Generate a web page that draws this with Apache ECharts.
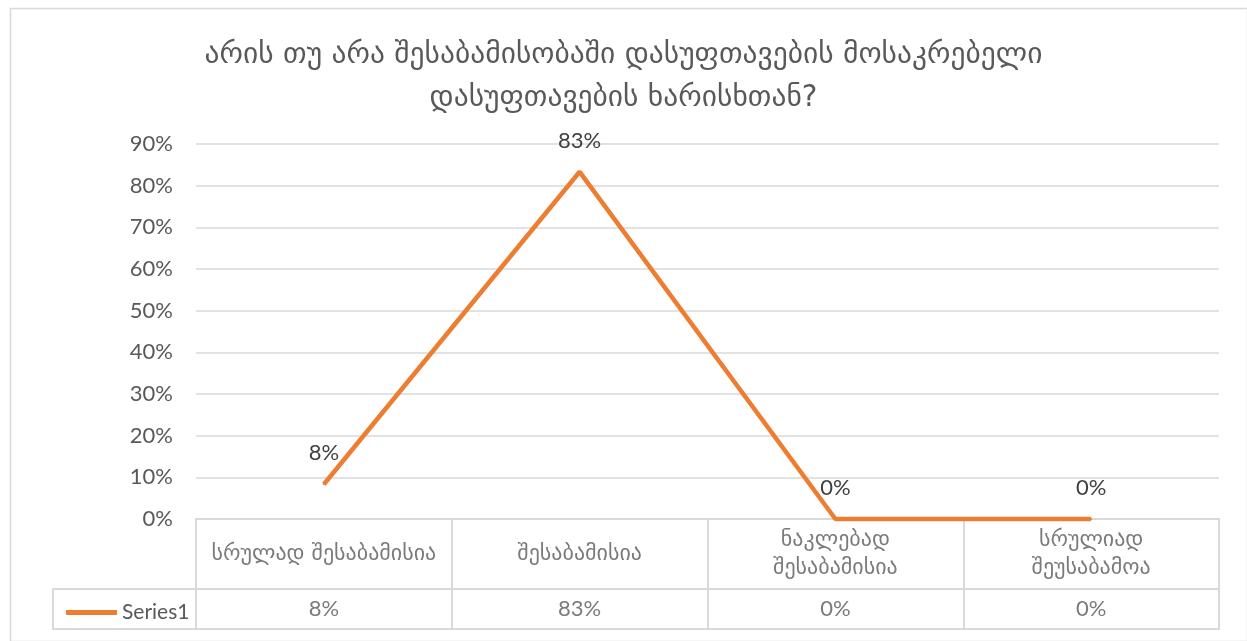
<!DOCTYPE html>
<html>
<head>
<meta charset="utf-8">
<script src="https://cdn.jsdelivr.net/npm/echarts@6/dist/echarts.min.js"></script>
<style>
html,body{margin:0;padding:0;background:#fff;}
#chart{width:1247px;height:641px;}
</style>
</head>
<body>
<div id="chart"></div>
<script>
const titleText = 'არის თუ არა შესაბამისობაში დასუფთავების მოსაკრებელი\nდასუფთავების ხარისხთან?';
const categories = ['სრულად შესაბამისია', 'შესაბამისია', 'ნაკლებად\nშესაბამისია', 'სრულიად\nშეუსაბამოა'];
const seriesName = 'Series1';
const values = [8.33, 83.33, 0, 0];
const yTicks = [0, 10, 20, 30, 40, 50, 60, 70, 80, 90];

const FONT = "Lato, 'DejaVu Sans', sans-serif";
const GEO = "'DejaVu Sans', sans-serif";
const GRAY = '#d9d9d9';
const TXT = '#595959';
const ORANGE = '#ED7D31';

const chart = echarts.init(document.getElementById('chart'));
chart.setOption({
  backgroundColor: '#fff',
  animation: false,
  textStyle: { fontFamily: FONT },
  title: {
    text: titleText,
    left: 'center',
    top: 29,
    textStyle: { fontFamily: GEO, fontSize: 29.5, fontWeight: 'normal', color: TXT, lineHeight: 43 }
  },
  graphic: [{
    type: 'rect', left: 8, top: 6, silent: true,
    shape: { width: 1237, height: 633 },
    style: { fill: 'none', stroke: GRAY, lineWidth: 1.5 }
  }],
  legend: {
    data: [seriesName],
    left: 61, top: 597,
    icon: 'rect', itemWidth: 51, itemHeight: 5, itemGap: 6,
    itemStyle: { color: ORANGE, opacity: 1 },
    textStyle: { fontFamily: FONT, fontSize: 21, color: TXT }
  },
  grid: [
    { left: 196, right: 28, top: 144, bottom: 122 },
    { left: 196, right: 28, top: 519, height: 70, show: true, borderColor: GRAY, borderWidth: 2 },
    { left: 196, right: 28, top: 589, height: 40, show: true, borderColor: GRAY, borderWidth: 2 },
    { left: 53, width: 143, top: 589, height: 40, show: true, borderColor: GRAY, borderWidth: 2 }
  ],
  xAxis: [
    { gridIndex: 0, type: 'category', data: categories, boundaryGap: true,
      axisLine: { show: false }, axisTick: { show: false }, axisLabel: { show: false }, splitLine: { show: false } },
    { gridIndex: 1, type: 'category', data: categories, boundaryGap: true,
      axisLine: { show: false }, axisTick: { show: false }, axisLabel: { show: false },
      splitLine: { show: true, lineStyle: { color: GRAY, width: 2 } } },
    { gridIndex: 2, type: 'category', data: categories, boundaryGap: true,
      axisLine: { show: false }, axisTick: { show: false }, axisLabel: { show: false },
      splitLine: { show: true, lineStyle: { color: GRAY, width: 2 } } },
    { gridIndex: 3, type: 'category', data: [''], show: false }
  ],
  yAxis: [
    { gridIndex: 0, type: 'value', min: 0, max: 90, interval: 10,
      axisLine: { show: false }, axisTick: { show: false },
      axisLabel: { formatter: v => yTicks.includes(v) ? v + '%' : '', fontSize: 22, color: TXT, margin: 23, fontFamily: FONT },
      splitLine: { lineStyle: { color: GRAY, width: 1.5 } } },
    { gridIndex: 1, type: 'value', min: 0, max: 1, show: false },
    { gridIndex: 2, type: 'value', min: 0, max: 1, show: false },
    { gridIndex: 3, type: 'value', min: 0, max: 1, show: false }
  ],
  series: [
    {
      name: seriesName, type: 'line', xAxisIndex: 0, yAxisIndex: 0,
      data: values, symbol: 'circle', symbolSize: 2, showSymbol: true, clip: false,
      lineStyle: { color: ORANGE, width: 4.5 },
      itemStyle: { color: ORANGE },
      label: { show: true, position: 'top', distance: 19, formatter: p => Math.round(p.value) + '%',
        fontSize: 22, color: '#404040', fontFamily: FONT },
      labelLayout: { hideOverlap: false }
    },
    {
      type: 'scatter', xAxisIndex: 1, yAxisIndex: 1, symbolSize: 0, silent: true,
      data: categories.map(c => [c, 0.5]),
      label: { show: true, position: 'inside', formatter: p => p.value[0],
        fontSize: 22, color: TXT, lineHeight: 28, fontFamily: GEO }
    },
    {
      type: 'scatter', xAxisIndex: 2, yAxisIndex: 2, symbolSize: 0, silent: true,
      data: categories.map((c, i) => [c, 0.5, values[i]]),
      label: { show: true, position: 'inside', formatter: p => Math.round(p.value[2]) + '%',
        fontSize: 22, color: TXT, fontFamily: FONT }
    }
  ]
});
</script>
</body>
</html>
